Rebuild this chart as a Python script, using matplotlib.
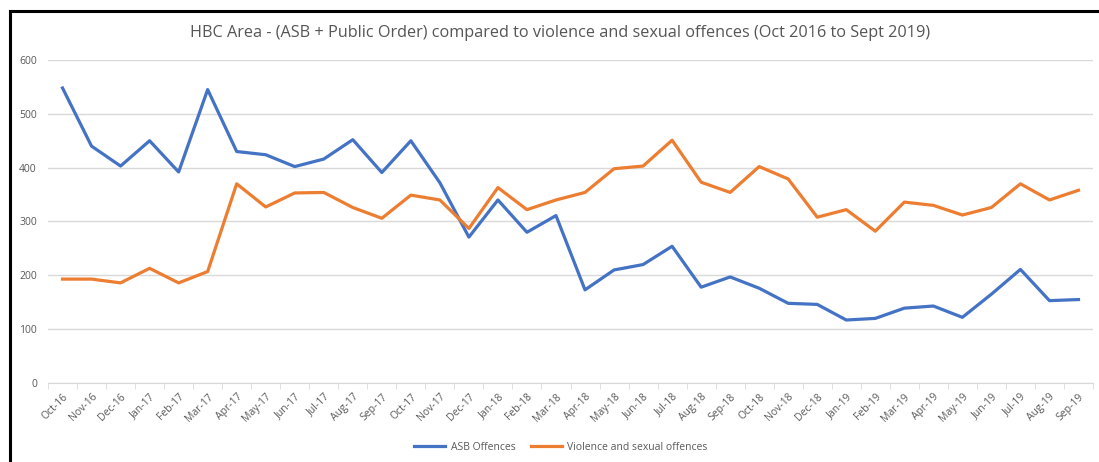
import matplotlib
matplotlib.use("Agg")
import matplotlib.pyplot as plt
from matplotlib.lines import Line2D

plt.rcParams['font.family'] = ['Open Sans', 'DejaVu Sans']

months = ['Oct-16', 'Nov-16', 'Dec-16', 'Jan-17', 'Feb-17', 'Mar-17', 'Apr-17', 'May-17',
          'Jun-17', 'Jul-17', 'Aug-17', 'Sep-17', 'Oct-17', 'Nov-17', 'Dec-17', 'Jan-18',
          'Feb-18', 'Mar-18', 'Apr-18', 'May-18', 'Jun-18', 'Jul-18', 'Aug-18', 'Sep-18',
          'Oct-18', 'Nov-18', 'Dec-18', 'Jan-19', 'Feb-19', 'Mar-19', 'Apr-19', 'May-19',
          'Jun-19', 'Jul-19', 'Aug-19', 'Sep-19']

asb = [548, 440, 403, 450, 392, 545, 430, 424, 402, 416, 452, 391,
       450, 372, 271, 340, 280, 311, 173, 210, 220, 254, 178, 197,
       176, 148, 146, 117, 120, 139, 143, 122, 165, 211, 153, 155]

violence = [193, 193, 186, 213, 186, 207, 370, 327, 353, 354, 326, 306,
            349, 340, 287, 363, 322, 340, 354, 398, 403, 451, 373, 354,
            402, 379, 308, 322, 282, 336, 330, 312, 326, 370, 340, 358]

W, H = 1099, 462
fig = plt.figure(figsize=(W / 100, H / 100), dpi=100)
ax = fig.add_axes([48 / W, (H - 383) / H, (1093 - 48) / W, (383 - 60) / H])

x = range(len(months))
l1, = ax.plot(x, asb, color='#4472C4', lw=2.3, label='ASB Offences')
l2, = ax.plot(x, violence, color='#ED7D31', lw=2.3, label='Violence and sexual offences')

ax.set_xlim(-0.5, len(months) - 0.5)
ax.set_ylim(0, 600)
ax.set_yticks(range(0, 601, 100))
ax.yaxis.grid(True, color='#D9D9D9', lw=1)
ax.set_axisbelow(True)
for s in ['top', 'right', 'left']:
    ax.spines[s].set_visible(False)
ax.spines['bottom'].set_color('#D9D9D9')

ax.set_xticks(list(x))
ax.set_xticklabels(months, rotation=45, ha='right', rotation_mode='anchor',
                   fontsize=7.5, color='#595959')
ax.tick_params(axis='x', length=0, pad=6)
ax.set_xticks([i + 0.5 for i in range(-1, len(months))], minor=True)
ax.tick_params(axis='x', which='minor', length=4, color='#D9D9D9')
ax.tick_params(axis='y', length=0, labelsize=7.5, labelcolor='#595959', pad=8)

fig.text(560 / W, 1 - 33 / H, 'HBC Area - (ASB + Public Order) compared to violence and sexual offences (Oct 2016 to Sept 2019)',
         ha='center', va='center', fontsize=11.7, color='#555555')

fig.legend(handles=[l1, l2], loc='center', bbox_to_anchor=(561 / W, 1 - 447 / H),
           ncol=2, frameon=False, fontsize=7.5, labelcolor='#595959',
           handlelength=3, columnspacing=1.5, handletextpad=0.5)

# black frame on top and left
fig.add_artist(Line2D([9.5 / W, 1], [1 - 10.5 / H, 1 - 10.5 / H], color='black', lw=2.2))
fig.add_artist(Line2D([9.5 / W, 9.5 / W], [0, 1 - 10.5 / H], color='black', lw=2.2))

fig.savefig('out.png', dpi=100)
